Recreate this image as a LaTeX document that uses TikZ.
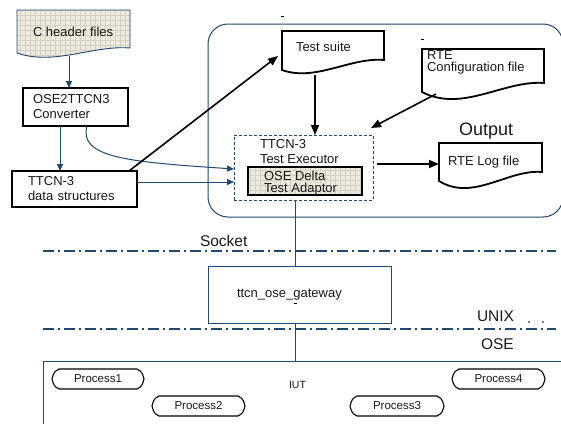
\documentclass[tikz,border=0pt]{standalone}
\usepackage{fontspec}
\setmainfont{Liberation Sans}
\usetikzlibrary{arrows.meta,calc}
\definecolor{bl}{RGB}{31,73,115}
\definecolor{beige}{RGB}{236,233,223}
\definecolor{gridc}{RGB}{214,209,196}
\definecolor{txt}{RGB}{25,25,25}
\newcommand{\docdraw}[5]{%
  \draw[#5] (#1.north west) -- (#1.north east) -- (#1.south east)
    .. controls ($(#1.south east)!0.33!(#1.south west)+(0,-#3)$) and ($(#1.south east)!0.67!(#1.south west)+(0,#4)$)
    .. ($(#1.south west)+(0,#2)$) -- cycle;}
\newcommand{\procdraw}[1]{%
  \draw[black, line width=1.1pt] (#1.west)
    .. controls ($(#1.north west)+(2,3)$) .. ($(#1.north west)+(7,0)$)
    -- ($(#1.north east)+(-7,0)$)
    .. controls ($(#1.north east)+(-2,3)$) .. (#1.east)
    .. controls ($(#1.south east)+(-2,-3)$) .. ($(#1.south east)+(-7,0)$)
    -- ($(#1.south west)+(7,0)$)
    .. controls ($(#1.south west)+(2,-3)$) .. (#1.west);}
\begin{document}
\begin{tikzpicture}[x=1pt,y=-1pt,
  every node/.style={inner sep=0pt, outer sep=0pt, text=txt, font=\fontsize{13}{15}\selectfont},
  sz/.style 2 args={anchor=north west, minimum width=#1pt, minimum height=#2pt},
  thickbox/.style={draw=black, line width=1.8pt},
  thinbox/.style={draw=bl, line width=1pt},
  barrow/.style={bl, line width=1pt, -{Triangle[length=7pt,width=6pt]}},
  karrow/.style={black, line width=1.6pt, -{Triangle[length=10pt,width=8pt]}},
  dashdot/.style={bl, line width=1.3pt, dash pattern=on 11pt off 4pt on 2pt off 4pt},
  big/.style={font=\fontsize{15.5}{17}\selectfont},
  proc/.style={font=\fontsize{11.5}{13}\selectfont}
]
\fill[white] (0,0) rectangle (561,423);
\clip (0,0) rectangle (561,423);

% container
\draw[bl, line width=1pt, rounded corners=20pt] (208,24) rectangle (563,217);

% C header files
\node[sz={113}{38}] (chf) at (17,10) {};
\begin{scope}
  \clip (chf.north west) -- (chf.north east) -- (chf.south east)
    .. controls ($(chf.south east)!0.33!(chf.south west)+(0,-3)$) and ($(chf.south east)!0.67!(chf.south west)+(0,18)$)
    .. ($(chf.south west)+(0,5)$) -- cycle;
  \fill[beige] (10,5) rectangle (140,70);
  \draw[gridc, line width=0.3pt, step=5pt] (10,70) grid (140,5);
\end{scope}
\docdraw{chf}{5}{3}{18}{bl, line width=0.9pt}
\node[anchor=west] (chft) at (33,32) {C header files};

% converter and data structures
\node[sz={105}{38}, thickbox, align=left, text width=85pt, inner xsep=10pt] (conv) at (23,88) {OSE2TTCN3\\Converter};
\node[sz={125}{36}, thickbox, align=left, text width=93pt, inner xsep=16pt] (ds) at (12,171) {TTCN-3\\data structures};

% documents
\node[sz={102}{29}] (ts) at (282,31) {};
\docdraw{ts}{10}{3}{22}{black, line width=1.8pt, fill=white}
\node[anchor=west] (tst) at (296,47) {Test suite};

\node[sz={122}{34}] (cfg) at (422,49) {};
\docdraw{cfg}{9}{3}{30}{black, line width=1.8pt, fill=white}
\node[anchor=west, align=left, font=\fontsize{13}{12}\selectfont] (cfgt) at (427,62) {RTE\\Configuration file};

\node[sz={103}{29}] (logf) at (439,143) {};
\docdraw{logf}{9}{3}{30}{black, line width=1.8pt, fill=white}
\node[anchor=west] (logt) at (448,162) {RTE Log file};
\node[anchor=west, font=\fontsize{18}{20}\selectfont] (outt) at (459,131) {Output};

% executor
\node[sz={139}{65}, draw=bl, line width=1pt, dash pattern=on 3pt off 2pt] (exec) at (234,135) {};
\node[anchor=west, align=left] (exect) at (260,151.5) {TTCN-3\\Test Executor};
\node[sz={114}{28}] (ada) at (248,167) {};
\begin{scope}
  \clip (ada.north west) rectangle (ada.south east);
  \fill[beige] (ada.north west) rectangle (ada.south east);
  \draw[gridc, line width=0.3pt, step=5pt] (240,200) grid (370,160);
\end{scope}
\draw[thickbox] (ada.north west) rectangle (ada.south east);
\node[anchor=west, align=left, font=\fontsize{13}{12}\selectfont] (adat) at (264,183) {OSE Delta\\Test Adaptor};

% gateway, IUT
\node[sz={183}{57}, thinbox, align=left, text width=125pt, inner xsep=29pt] (gw) at (208,266) {ttcn\_ose\_gateway};
\node[sz={527}{69}, thinbox] (iut) at (43,361) {};
\node[anchor=west, font=\fontsize{10.5}{12}\selectfont] (iutt) at (289,385) {IUT};

\node[sz={92}{20}, proc] (p1) at (52,369) {Process1};
\node[sz={93}{20}, proc] (p2) at (152,396) {Process2};
\node[sz={94}{20}, proc] (p3) at (350,396) {Process3};
\node[sz={93}{20}, proc] (p4) at (452,369) {Process4};
\procdraw{p1}\procdraw{p2}\procdraw{p3}\procdraw{p4}

% layer labels and lines
\node[anchor=west, big] (sock) at (200,241) {Socket};
\node[anchor=west, big] (unix) at (477,316) {UNIX};
\node[anchor=west, big] (oset) at (481,344) {OSE};
\draw[dashdot] (43,251) -- (556,251);
\draw[dashdot] (43,329) -- (556,329);

% connectors
\coordinate (a1) at ($(chf.south west)+(52,8)$);
\draw[barrow] (a1) -- (a1 |- conv.north);
\coordinate (a2) at ($(conv.south west)+(37,0)$);
\draw[barrow] (a2) -- (a2 |- ds.north);
\draw[barrow] ($(conv.south)+(11.5,0)$) .. controls (78,158) and (130,162) .. ($(exec.west)+(0,1.5)$);
\coordinate (a4) at ($(ds.east)+(0,-7)$);
\draw[barrow] (a4) -- (a4 -| exec.west);
\draw[karrow] ($(ds.north east)+(-8,0)$) -- ($(ts.north west)+(-4,25)$);
\coordinate (a6) at ($(ts.south west)+(33,15)$);
\draw[karrow] (a6) -- (a6 |- exec.north);
\draw[karrow] ($(cfg.south west)+(14,11)$) -- ($(exec.north east)+(-2,-7)$);
\coordinate (a8) at ($(exec.east)+(4,-3.5)$);
\draw[karrow] (a8) -- (a8 -| logf.west);
\coordinate (a9) at ($(exec.south)+(-8.5,0)$);
\draw[bl, line width=1pt] (a9) -- (a9 |- gw.north);
\coordinate (a10) at ($(gw.south)+(-4.5,0)$);
\draw[bl, line width=1pt] (a10) -- (a10 |- iut.north);

% small marks
\draw[black, line width=0.7pt] (280.5,16) -- (283.5,16);
\draw[black, line width=0.7pt] (420.5,39) -- (423.5,39);
\draw[black, line width=0.7pt] (293.5,303) -- (296.5,303);
\fill[black] (529,322) circle (0.8);
\fill[black] (543,322) circle (0.8);
\end{tikzpicture}
\end{document}
